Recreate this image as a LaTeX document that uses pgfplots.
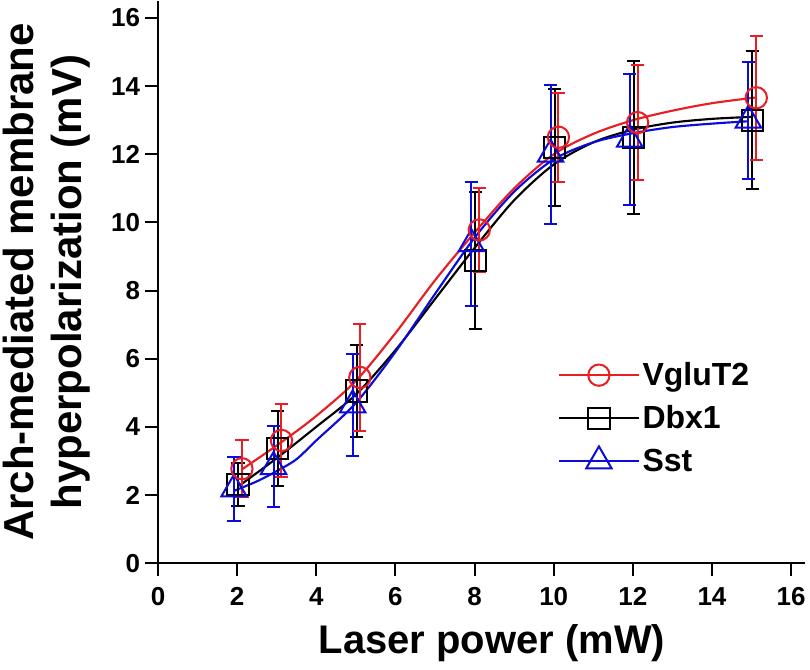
\documentclass[border=0pt]{standalone}
\usepackage{pgfplots}
\pgfplotsset{compat=1.18}
\usepackage{fontspec}
\setmainfont{Liberation Sans}
\definecolor{myred}{RGB}{232,30,36}
\definecolor{myblue}{RGB}{12,12,218}
\begin{document}
\begin{tikzpicture}
\begin{axis}[
  scale only axis,
  width=486pt, height=422pt,
  xmin=0, xmax=16.36, ymin=0, ymax=16.5,
  axis x line*=bottom, axis y line*=left,
  axis line style={line width=1.5pt, -},
  xtick={0,2,...,16}, ytick={0,2,...,16},
  tick align=outside, major tick length=10pt,
  tick style={line width=1.5pt, black},
  /pgf/number format/assume math mode=true,
  tick label style={font=\fontsize{19.5}{23}\selectfont\bfseries},
  xticklabel shift=5pt,
  xlabel={Laser power (mW)},
  ylabel={Arch-mediated membrane\\hyperpolarization (mV)},
  ylabel style={font=\fontsize{31.5}{36}\selectfont\bfseries, align=center,
    at={(axis description cs:-0.101,0.5)}, anchor=south, inner sep=0pt, inner ysep=2pt},
  xlabel style={font=\fontsize{30}{34}\selectfont\bfseries,
    at={(axis description cs:0.516,-0.1617)}, anchor=base, inner sep=0pt, text depth=12pt},
  legend style={draw=none, fill=none, at={(axis cs:10.0,6.05)}, anchor=north west,
    nodes={font=\fontsize{24}{26}\selectfont\bfseries}, row sep=9.5pt},
  legend cell align=left,
  legend image code/.code={\draw[mark repeat=2,mark phase=2,#1] plot coordinates {(0pt,0pt) (30pt,0pt) (60pt,0pt)};},
  clip=false,
]
% fitted curves
\addplot[black, line width=1.6pt, smooth, tension=0.5, forget plot] coordinates {
 (2.05,2.27) (3,3.08) (4,4.0) (5,4.95) (6,6.25) (7,7.75) (8,9.25) (9,10.65)
 (10,11.7) (11,12.35) (12,12.72) (13,12.93) (14,13.04) (15.02,13.1)};
\addplot[myblue, line width=1.6pt, smooth, tension=0.5, forget plot] coordinates {
 (1.92,2.12) (2.5,2.4) (3,2.7) (3.5,3.05) (4,3.6) (5,4.7) (6,6.2) (7,7.9) (8,9.55)
 (9,10.9) (10,11.85) (11,12.35) (12,12.62) (13,12.8) (14,12.9) (14.92,12.97)};
\addplot[myred, line width=1.6pt, smooth, tension=0.5, forget plot] coordinates {
 (2.12,2.75) (3.12,3.55) (4,4.32) (5,5.35) (6,6.75) (7,8.3) (8,9.7) (9,11.0)
 (10,12.0) (11,12.6) (12,13.0) (13,13.28) (14,13.5) (15.12,13.67)};
% data with error bars
\addplot[black, only marks, mark=square, mark size=8pt, mark options={fill=white, line width=1.5pt}, forget plot,
  error bars/.cd, y dir=both, y explicit, error bar style={line width=1.5pt},
  error mark options={rotate=90, mark size=5pt, line width=1.5pt}] coordinates {
 (2.02,2.3) +- (0,0.63)
 (3.02,3.36) +- (0,1.1)
 (5.02,5.05) +- (0,1.36)
 (8.02,8.88) +- (0,2.02)
 (10.02,12.2) +- (0,1.73)
 (12.02,12.5) +- (0,2.25)
 (15.02,13.0) +- (0,2.02)};
\addplot[myblue, only marks, mark=triangle, mark size=11pt, mark options={fill=white, line width=1.5pt}, forget plot,
  error bars/.cd, y dir=both, y explicit, error bar style={line width=1.5pt},
  error mark options={rotate=90, mark size=5pt, line width=1.5pt}] coordinates {
 (1.92,2.17) +- (0,0.93)
 (2.92,2.83) +- (0,1.19)
 (4.92,4.64) +- (0,1.5)
 (7.92,9.37) +- (0,1.83)
 (9.92,12.0) +- (0,2.04)
 (11.92,12.44) +- (0,1.92)
 (14.92,13.0) +- (0,1.72)};
\addplot[myred, only marks, mark=o, mark size=8pt, mark options={fill=white, line width=1.5pt}, forget plot,
  error bars/.cd, y dir=both, y explicit, error bar style={line width=1.5pt},
  error mark options={rotate=90, mark size=5pt, line width=1.5pt}] coordinates {
 (2.12,2.77) +- (0,0.84)
 (3.12,3.6) +- (0,1.08)
 (5.1,5.45) +- (0,1.57)
 (8.12,9.78) +- (0,1.23)
 (10.12,12.5) +- (0,1.3)
 (12.12,12.93) +- (0,1.69)
 (15.12,13.66) +- (0,1.82)};
% legend
\addlegendimage{myred, line width=1.5pt, mark=o, mark size=8pt, mark options={fill=white, solid}}
\addlegendentry{VgluT2}
\addlegendimage{black, line width=1.5pt, mark=square, mark size=8pt, mark options={fill=white, solid}}
\addlegendentry{Dbx1}
\addlegendimage{myblue, line width=1.5pt, mark=triangle, mark size=11pt, mark options={fill=white, solid}}
\addlegendentry{Sst}
\end{axis}
\end{tikzpicture}
\end{document}
